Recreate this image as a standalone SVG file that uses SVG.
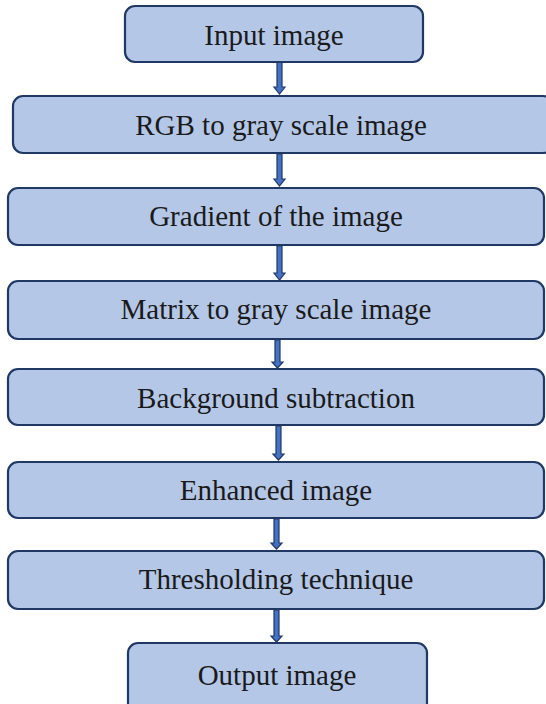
<svg xmlns="http://www.w3.org/2000/svg" width="546" height="704" viewBox="0 0 546 704">
<style>
.box{fill:#b4c7e7;stroke:#203864;stroke-width:2.2}
.t{font-family:"Liberation Serif","Times New Roman",serif;font-size:29px;fill:#1a1a1a;text-anchor:middle}
.sh{fill:#4472c4;stroke:#203864;stroke-width:1.2}
</style>
<rect width="546" height="704" fill="#fff"/>
<g id="connectors">
<path class="sh" d="M277,62 h5 v25 h3 l-5.5,7 l-5.5,-7 h3 z"/>
<path class="sh" d="M277,154 h5 v25 h3 l-5.5,7 l-5.5,-7 h3 z"/>
<path class="sh" d="M277,246 h5 v27 h3 l-5.5,7 l-5.5,-7 h3 z"/>
<path class="sh" d="M275,340 h5 v22 h3 l-5.5,6 l-5.5,-6 h3 z"/>
<path class="sh" d="M276,426 h5 v28 h3 l-5.5,6 l-5.5,-6 h3 z"/>
<path class="sh" d="M274,519 h5 v24 h3 l-5.5,6 l-5.5,-6 h3 z"/>
<path class="sh" d="M274,610 h5 v26 h3 l-5.5,6 l-5.5,-6 h3 z"/>
</g>
<g id="n1"><rect class="box" x="125" y="6" width="298" height="56" rx="10"/><text class="t" x="274" y="45">Input image</text></g>
<g id="n2"><rect class="box" x="13" y="96" width="540" height="57" rx="10"/><text class="t" x="281" y="135">RGB to gray scale image</text></g>
<g id="n3"><rect class="box" x="8" y="188" width="536" height="57" rx="10"/><text class="t" x="276" y="226">Gradient of the image</text></g>
<g id="n4"><rect class="box" x="8" y="281" width="536" height="58" rx="10"/><text class="t" x="276" y="319">Matrix to gray scale image</text></g>
<g id="n5"><rect class="box" x="8" y="369" width="536" height="56" rx="10"/><text class="t" x="276" y="408">Background subtraction</text></g>
<g id="n6"><rect class="box" x="8" y="462" width="536" height="56" rx="10"/><text class="t" x="276" y="500">Enhanced image</text></g>
<g id="n7"><rect class="box" x="8" y="551" width="536" height="58" rx="10"/><text class="t" x="276" y="589">Thresholding technique</text></g>
<g id="n8"><rect class="box" x="128" y="643" width="299" height="70" rx="10"/><text class="t" x="277" y="685">Output image</text></g>
</svg>
